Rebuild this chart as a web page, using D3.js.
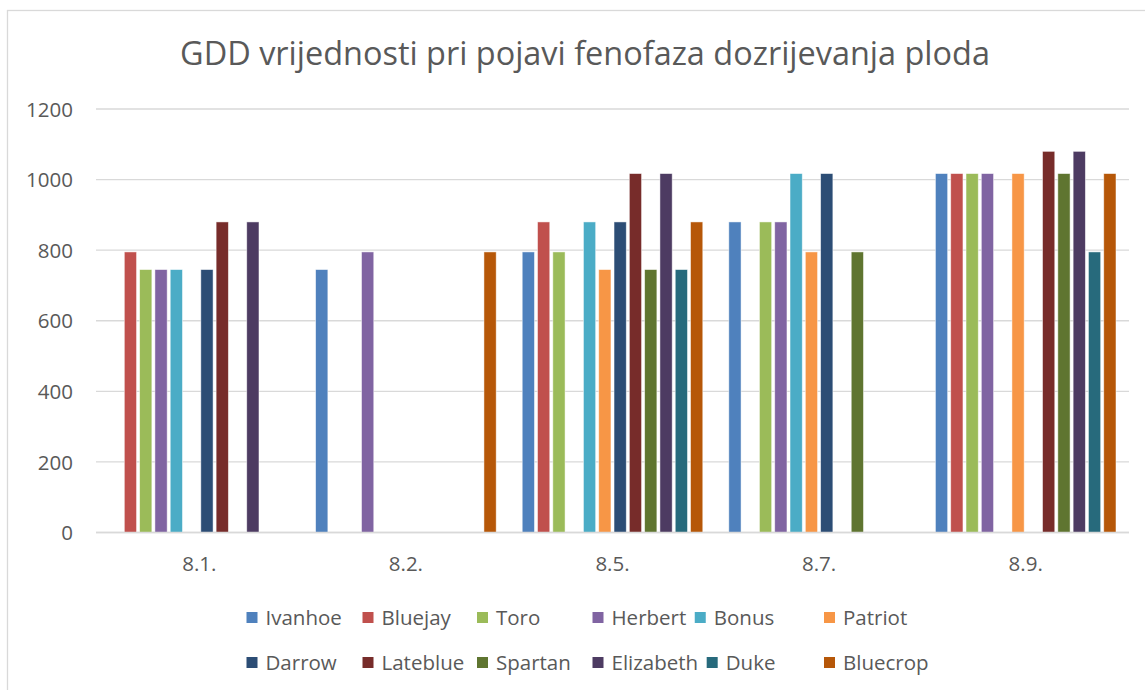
<!DOCTYPE html>
<html>
<head>
<meta charset="utf-8">
<script src="https://cdn.jsdelivr.net/npm/d3@7/dist/d3.min.js"></script>
<style>
  html, body { margin: 0; padding: 0; background: #fff; }
  svg { display: block; font-family: "Open Sans", "Noto Sans", sans-serif; }
</style>
</head>
<body>
<svg id="chart" width="1145" height="690"></svg>
<script>
const title = "GDD vrijednosti pri pojavi fenofaza dozrijevanja ploda";
const categories = ["8.1.", "8.2.", "8.5.", "8.7.", "8.9."];
const seriesNames = ["Ivanhoe", "Bluejay", "Toro", "Herbert", "Bonus", "Patriot",
                     "Darrow", "Lateblue", "Spartan", "Elizabeth", "Duke", "Bluecrop"];
const seriesColors = ["#4F81BD", "#C0504D", "#9BBB59", "#8064A2", "#4BACC6", "#F79646",
                      "#2C4D75", "#772C2A", "#5F7530", "#4D3B62", "#276A7C", "#B65708"];
// values per series, in category order (null = no bar)
const Ivanhoe   = [null, 745, 795, 880, 1017];
const Bluejay   = [795, null, 880, null, 1017];
const Toro      = [745, null, 795, 880, 1017];
const Herbert   = [745, 795, null, 880, 1017];
const Bonus     = [745, null, 880, 1017, null];
const Patriot   = [null, null, 745, 795, 1017];
const Darrow    = [745, null, 880, 1017, null];
const Lateblue  = [880, null, 1017, null, 1080];
const Spartan   = [null, null, 745, 795, 1017];
const Elizabeth = [880, null, 1017, null, 1080];
const Duke      = [null, null, 745, null, 795];
const Bluecrop  = [null, 795, 880, null, 1017];
const yTicks = [0, 200, 400, 600, 800, 1000, 1200];

const seriesValues = [Ivanhoe, Bluejay, Toro, Herbert, Bonus, Patriot,
                      Darrow, Lateblue, Spartan, Elizabeth, Duke, Bluecrop];

const svg = d3.select("#chart");
const textColor = "#595959";
const gridColor = "#D9D9D9";

// chart border
svg.append("rect")
  .attr("x", 7.5).attr("y", 10.5).attr("width", 1160).attr("height", 700)
  .attr("fill", "#fff").attr("stroke", gridColor).attr("stroke-width", 1.3);

// title: fit to measured width
const titleEl = svg.append("text")
  .attr("x", 585).attr("y", 65)
  .attr("text-anchor", "middle")
  .attr("fill", textColor)
  .attr("font-size", 30)
  .text(title);
const tw = titleEl.node().getComputedTextLength();
titleEl.attr("font-size", 30 * 810 / tw);

const plot = { left: 96, right: 1129, top: 109, bottom: 532.5 };

const x0 = d3.scaleBand().domain(categories)
  .range([plot.left, plot.right])
  .paddingInner(0.126).paddingOuter(0.063);
const x1 = d3.scaleBand().domain(seriesNames)
  .range([0, x0.bandwidth()])
  .paddingInner(0.2).paddingOuter(0);
const y = d3.scaleLinear().domain([0, 1200]).range([plot.bottom, plot.top]);

// gridlines
svg.append("g").selectAll("line").data(yTicks).join("line")
  .attr("x1", plot.left).attr("x2", plot.right)
  .attr("y1", d => y(d)).attr("y2", d => y(d))
  .attr("stroke", gridColor).attr("stroke-width", 1.3);

// y axis labels
const yAxis = d3.axisLeft(y).tickValues(yTicks).tickFormat(d3.format("d")).tickSize(0).tickPadding(0);
const yg = svg.append("g").attr("transform", `translate(73,0)`).call(yAxis);
yg.select(".domain").remove();
yg.selectAll("text").attr("fill", textColor).attr("font-size", 20.5)
  .attr("font-family", "'Open Sans', sans-serif").attr("dy", "0.35em");

// bars
const flat = [];
seriesNames.forEach((s, i) => {
  categories.forEach((c, j) => {
    const v = seriesValues[i][j];
    if (v != null) flat.push({ series: s, cat: c, value: v, color: seriesColors[i] });
  });
});
svg.append("g").selectAll("rect").data(flat).join("rect")
  .attr("x", d => x0(d.cat) + x1(d.series))
  .attr("y", d => y(d.value))
  .attr("width", x1.bandwidth())
  .attr("height", d => y(0) - y(d.value))
  .attr("fill", d => d.color)
  .attr("stroke", "#ffffff").attr("stroke-opacity", 0.6).attr("stroke-width", 0.8);

// baseline
svg.append("line")
  .attr("x1", plot.left).attr("x2", plot.right)
  .attr("y1", y(0)).attr("y2", y(0))
  .attr("stroke", gridColor).attr("stroke-width", 1.3);

// x axis labels
const xAxis = d3.axisBottom(x0).tickSize(0).tickPadding(0);
const xg = svg.append("g").attr("transform", `translate(0,571)`).call(xAxis);
xg.select(".domain").remove();
xg.selectAll("text").attr("fill", textColor).attr("font-size", 20.5)
  .attr("font-family", "'Open Sans', sans-serif").attr("dy", 0);

// legend
const legendCols = [246.5, 362.5, 477, 592.5, null, 824];
const legendRows = [624.5, 669.5];
const textOffset = 19;
const legend = svg.append("g");
const items = [];
seriesNames.forEach((s, i) => {
  const row = Math.floor(i / 6), col = i % 6;
  const g = legend.append("g");
  const base = legendRows[row];
  g.append("rect").attr("width", 11).attr("height", 11)
    .attr("y", base - 12.5).attr("fill", seriesColors[i]);
  const t = g.append("text").attr("x", textOffset).attr("y", base)
    .attr("fill", textColor).attr("font-size", 20.5).text(s);
  items.push({ g, t, row, col });
});
items.forEach(it => {
  let xPos;
  if (legendCols[it.col] != null) {
    xPos = legendCols[it.col];
  } else {
    const prev = items.find(p => p.row === it.row && p.col === it.col - 1);
    xPos = legendCols[it.col - 1] + textOffset + prev.t.node().getComputedTextLength() + 8.5;
  }
  it.g.attr("transform", `translate(${xPos},0)`);
});
</script>
</body>
</html>
